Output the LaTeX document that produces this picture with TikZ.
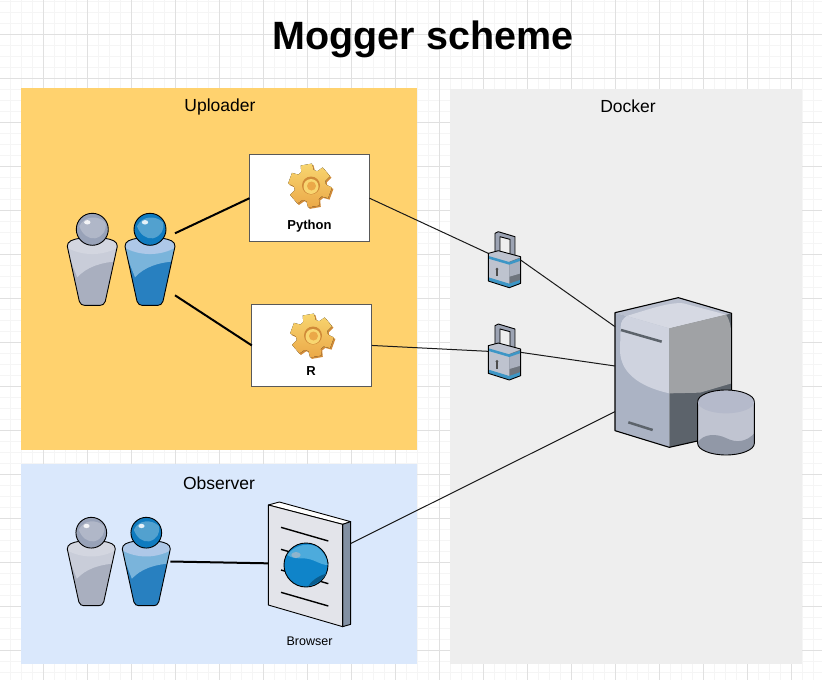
\documentclass[tikz,border=0pt]{standalone}
\usepackage{fontspec}
\setmainfont{Liberation Sans}
\usetikzlibrary{positioning}
\definecolor{uplfill}{HTML}{FFD26E}
\definecolor{obsfill}{HTML}{DAE8FC}
\definecolor{dockfill}{HTML}{EEEEEE}
\definecolor{gearlow}{HTML}{D08A38}
\definecolor{gearhi}{HTML}{F8D670}
\definecolor{gearmid}{HTML}{EBA848}
\definecolor{lockbody}{HTML}{9CA3B3}
\definecolor{lockface}{HTML}{BEC3CF}
\definecolor{lockshade}{HTML}{6F757E}
\definecolor{lockblue}{HTML}{3D96C6}
\definecolor{greylow}{HTML}{A9AFBF}
\definecolor{greyup}{HTML}{C9CDD9}
\definecolor{greyband}{HTML}{D3D6E0}
\definecolor{greyhead}{HTML}{98A2B8}
\definecolor{greyspot}{HTML}{B0B7C8}
\definecolor{bluelow}{HTML}{2880C0}
\definecolor{blueup}{HTML}{7AB4DB}
\definecolor{blueband}{HTML}{AEC8E8}
\definecolor{bluehead}{HTML}{0F7BBF}
\definecolor{bluespot}{HTML}{52A1CF}
\definecolor{srvtop}{HTML}{B9BFCE}
\definecolor{srvlow}{HTML}{ABB3C4}
\definecolor{srvdark}{HTML}{5C636B}
\definecolor{srvhi}{HTML}{D6D9E3}
\definecolor{srvup}{HTML}{CFD3DF}
\definecolor{srvright}{HTML}{A0A2A5}
\definecolor{srvcyl}{HTML}{C0C4D1}
\definecolor{srvcyltop}{HTML}{B5BACB}
\definecolor{brwface}{HTML}{E3E4EA}
\definecolor{brwside}{HTML}{8290A3}
\definecolor{brwglobe}{HTML}{0F84C9}
\definecolor{brwhi}{HTML}{4DABDC}
\definecolor{brwspot}{HTML}{8FB4CC}
\tikzset{
  panel/.style={rectangle, inner sep=0pt, outer sep=0pt, anchor=north west},
  ptitle/.style={font=\fontsize{17.5}{20}\selectfont, text=black, inner sep=0pt},
  appbox/.style={rectangle, draw=black!65, fill=white, line width=1.2pt, inner sep=0pt, outer sep=0pt, anchor=north west},
  applbl/.style={font=\fontsize{13}{15}\selectfont\bfseries, inner sep=0pt},
  wire/.style={draw=black!90, line width=1pt},
  wireb/.style={draw=black, line width=2pt},
  icon/.style={draw=black, line width=.9pt, line join=round},
  pics/person/.style n args={5}{code={
    \begin{scope}
    \clip (-25,17) .. controls (-25,12) and (-20,10) .. (-12,9) -- (12,9)
      .. controls (20,10) and (25,12) .. (25,17) -- (13,72) .. controls (12,75) and (10,76) .. (8,76)
      -- (-8,76) .. controls (-10,76) and (-12,75) .. (-13,72) -- cycle;
    \fill[#1] (-26,5) rectangle (26,78);
    \fill[#2] (-26,5) -- (26,5) -- (26,32) .. controls (8,33) and (-6,38) .. (-15,48) -- (-26,20) -- cycle;
    \fill[#3] (-26,5) -- (26,5) -- (26,18) .. controls (10,27) and (-10,27) .. (-26,18) -- cycle;
    \end{scope}
    \draw[icon] (-25,17) .. controls (-25,12) and (-20,10) .. (-12,9) -- (12,9)
      .. controls (20,10) and (25,12) .. (25,17) -- (13,72) .. controls (12,75) and (10,76) .. (8,76)
      -- (-8,76) .. controls (-10,76) and (-12,75) .. (-13,72) -- cycle;
    \draw[icon, fill=#4] (0,0) circle (16);
    \fill[#5] (3,9) .. controls (11,7) and (15,0) .. (13,-7) .. controls (6,-14) and (-8,-14) .. (-13,-3) .. controls (-10,5) and (-4,10) .. (3,9) -- cycle;
    \fill[white!85!#5] (-5,-7) ellipse (3.2 and 2.2);
    \coordinate (-ne) at (25,4);
    \coordinate (-se) at (25,66);
    \coordinate (-me) at (25,30);
  }},
  pics/gear/.style={code={
    \fill[gearlow] ([shift={(1.5,1.5)}]0:16) \foreach \a in {20,80,...,320}{ -- ([shift={(1.5,1.5)}]\a-23:16) -- ([shift={(1.5,1.5)}]\a-15:22) -- ([shift={(1.5,1.5)}]\a+15:22) -- ([shift={(1.5,1.5)}]\a+23:16)} -- cycle;
    \fill[top color=gearhi, bottom color=gearmid] (0:16) \foreach \a in {20,80,...,320}{ -- (\a-23:16) -- (\a-15:22) -- (\a+15:22) -- (\a+23:16)} -- cycle;
    \fill[gearlow] (1,0) circle (9);
    \fill[gearhi] (1,1) circle (7.5);
    \fill[gearmid] (1.5,.5) circle (4.5);
  }},
  pics/lock/.style={code={
    \begin{scope}[scale=1/3]
    \filldraw[icon, fill=lockbody] (20,65) -- (20,5) -- (30,0) -- (80,15) -- (80,75) -- (65,70) -- (65,23) -- (35,15) -- (35,62) -- cycle;
    \fill[lockface] (0,65) -- (30,57) -- (97,75) -- (97,155) -- (63,168) -- (0,148) -- cycle;
    \fill[lockshade] (63,90) -- (97,77) -- (97,155) -- (63,168) -- cycle;
    \fill[lockbody!60!lockface] (63,95) -- (97,87) -- (97,125) -- (63,135) -- cycle;
    \fill[lockblue] (1,73) -- (63,91) -- (97,79) -- (97,87) -- (63,99) -- (1,81) -- cycle;
    \fill[lockblue] (1,137) -- (63,156) -- (97,144) -- (97,155) -- (63,167) -- (1,147) -- cycle;
    \fill[black!70] (26,112) circle (4.5);
    \fill[black!70] (24,112) rectangle (28,134);
    \draw[icon] (0,65) -- (30,57) -- (97,75) -- (97,155) -- (63,168) -- (0,148) -- cycle;
    \coordinate (-w) at (0,65);
    \coordinate (-wl) at (0,82);
    \coordinate (-e) at (97,85);
    \end{scope}
  }},
  pics/server/.style={code={
    \begin{scope}[scale=1/3]
    \fill[srvtop] (435,278) -- (625,233) -- (785,280) -- (598,325) -- cycle;
    \fill[srvlow] (435,278) -- (598,325) -- (598,682) -- (435,632) -- cycle;
    \fill[srvdark] (598,325) -- (785,280) -- (785,640) -- (598,682) -- cycle;
    \fill[srvhi] (470,288) .. controls (530,270) and (600,245) .. (640,250) -- (768,284) -- (598,325) -- cycle;
    \fill[srvup] (452,320) .. controls (452,305) and (460,295) .. (470,288) -- (598,325) -- (598,520) .. controls (530,505) and (450,470) .. (450,390) -- cycle;
    \fill[srvright] (598,325) -- (768,284) .. controls (780,300) and (785,330) .. (785,360) -- (785,490) -- (690,518) -- (598,520) -- cycle;
    \draw[icon, line width=1.1pt] (435,278) -- (625,233) -- (785,280) -- (785,640) -- (598,682) -- (435,632) -- cycle;
    \draw[srvdark, line width=2.5pt] (453,330) -- (575,365);
    \draw[srvdark, line width=2.5pt] (475,607) -- (548,630);
    \fill[srvcyl] (683,545) -- (683,670) arc[start angle=180, end angle=0, x radius=85, y radius=35] -- (853,545) -- cycle;
    \begin{scope}
    \clip (683,545) -- (683,670) arc[start angle=180, end angle=0, x radius=85, y radius=35] -- (853,545) -- cycle;
    \fill[srvlow!85!black] (683,668) .. controls (700,640) and (740,640) .. (770,655) .. controls (800,670) and (830,665) .. (853,640) -- (853,710) -- (683,710) -- cycle;
    \end{scope}
    \draw[icon] (683,545) -- (683,670) arc[start angle=180, end angle=0, x radius=85, y radius=35] -- (853,545);
    \fill[srvcyltop] (768,545) ellipse (85 and 35);
    \draw[icon] (683,545) arc[start angle=180, end angle=360, x radius=85, y radius=35];
    \coordinate (-a) at (435,320);
    \coordinate (-b) at (435,438);
    \coordinate (-c) at (435,575);
    \end{scope}
  }},
  pics/browser/.style={code={
    \begin{scope}[scale=1/3]
    \draw[icon, fill=white] (655,45) -- (688,36) -- (902,95) -- (878,103) -- cycle;
    \draw[icon, fill=brwside] (878,103) -- (902,95) -- (902,403) -- (878,410) -- cycle;
    \draw[icon, fill=brwface] (655,45) -- (878,103) -- (878,410) -- (655,345) -- cycle;
    \foreach \y in {112,178,240,307}
      \draw[black, line width=1.4pt] (693,\y) -- (835,\y+41);
    \draw[icon, fill=brwglobe] (768,225) circle (66);
    \fill[brwhi] (712,195) .. controls (730,170) and (765,155) .. (800,170) .. controls (820,185) and (832,205) .. (833,225) .. controls (810,225) and (790,205) .. (760,205) .. controls (740,205) and (725,205) .. (712,195) -- cycle;
    \fill[brwglobe!70!black] (775,288) .. controls (800,282) and (820,268) .. (830,250) .. controls (815,255) and (790,265) .. (775,288) -- cycle;
    \fill[brwspot] (738,195) ellipse (14 and 9);
    \coordinate (-w) at (655,220);
    \coordinate (-e) at (903,160);
    \end{scope}
  }},
}
\begin{document}
\begin{tikzpicture}[x=1pt,y=-1pt]
\useasboundingbox (0,0) rectangle (822,680);
\fill[white] (0,0) rectangle (822,680);
\foreach \i in {0,...,74}\draw[black!4, line width=.8pt] ({-.5+11*\i},0) -- ++(0,680);
\foreach \i in {0,...,61}\draw[black!4, line width=.8pt] (0,{1+11*\i}) -- ++(822,0);
\foreach \i in {0,...,18}\draw[black!12, line width=.8pt] ({-.5+44*\i},0) -- ++(0,680);
\foreach \i in {0,...,15}\draw[black!12, line width=.8pt] (0,{-10+44*\i}) -- ++(822,0);

\node[font=\fontsize{39.5}{42}\selectfont\bfseries, inner sep=0pt] (title) at (423,39) {Mogger scheme};
\node[panel, fill=uplfill, minimum width=396pt, minimum height=362pt] (upl) at (21,88) {};
\node[panel, fill=obsfill, minimum width=396pt, minimum height=200pt] (obs) at (21,464) {};
\node[panel, fill=dockfill, minimum width=352pt, minimum height=575pt] (dock) at (450,89) {};
\node[ptitle, below=11pt of upl.north, xshift=1pt] (upltitle) {Uploader};
\node[ptitle, below=12.5pt of obs.north] (obstitle) {Observer};
\node[ptitle, below=11pt of dock.north, xshift=2pt] (docktitle) {Docker};

\node[appbox, minimum width=120pt, minimum height=87pt] (python) at (249.5,154.7) {};
\node[appbox, minimum width=120pt, minimum height=81.5pt] (rbox) at (251.8,304.7) {};
\pic at (310,185.5) {gear};
\pic at (312,335.5) {gear};
\node[applbl] (pythonlbl) at (309.5,226.5) {Python};
\node[applbl] (rlbl) at (311,371.5) {R};

\pic (uplgrey) at (92.3,229.3) {person={greylow}{greyup}{greyband}{greyhead}{greyspot}};
\pic (uplblue) at (150,229.3) {person={bluelow}{blueup}{blueband}{bluehead}{bluespot}};
\pic[scale=.96] (obsgrey) at (91.3,532.7) {person={greylow}{greyup}{greyband}{greyhead}{greyspot}};
\pic[scale=.96] (obsblue) at (146.3,532.7) {person={bluelow}{blueup}{blueband}{bluehead}{bluespot}};

\pic (locka) at (488.3,231.7) {lock};
\pic (lockb) at (488.3,324) {lock};
\pic (srv) at (470,220) {server};
\pic (brw) at (50,490) {browser};
\node[font=\fontsize{12.5}{14}\selectfont, inner sep=0pt] (brwlbl) at (309.5,641.5) {Browser};

\draw[wireb] (uplblue-ne) -- (python.west);
\draw[wireb] (uplblue-se) -- (rbox.west);
\draw[wireb] (obsblue-me) -- (brw-w);
\draw[wire] (python.east) -- (locka-w);
\draw[wire] (rbox.east) -- (lockb-wl);
\draw[wire] (locka-e) -- (srv-a);
\draw[wire] (lockb-e) -- (srv-b);
\draw[wire] (brw-e) -- (srv-c);
\end{tikzpicture}
\end{document}
